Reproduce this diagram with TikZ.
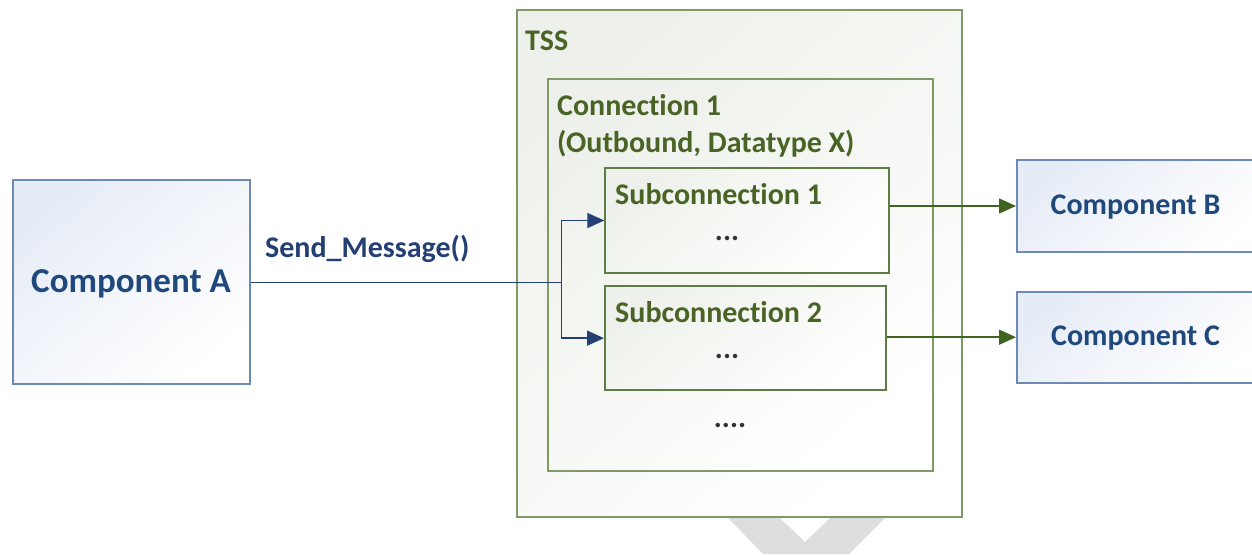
\documentclass[tikz,border=0pt]{standalone}
\usepackage{fontspec}
\setmainfont{Carlito}[Ligatures={NoCommon}]
\usetikzlibrary{arrows.meta}
\definecolor{bluetxt}{HTML}{1F497D}
\definecolor{navy}{HTML}{243F73}
\definecolor{blueedge}{HTML}{6D8AB5}
\definecolor{bluefill}{HTML}{E6ECF6}
\definecolor{greenedge}{HTML}{7F9968}
\definecolor{greendark}{HTML}{5E7D44}
\definecolor{greentxt}{HTML}{4A6426}
\definecolor{greenfill}{HTML}{EEF1EB}
\definecolor{greenline}{HTML}{3E6420}
\definecolor{wm}{HTML}{DEDEDE}
\begin{document}
\begin{tikzpicture}[x=1pt,y=-1pt,
  box/.style={line width=2pt, inner sep=0pt, anchor=north west},
  bluebox/.style={box, draw=blueedge, top color=bluefill, bottom color=white, shading angle=40},
  greenbox/.style={box, draw=greenedge, top color=greenfill, bottom color=white, shading angle=40},
  subbox/.style={box, draw=greendark, top color=greenfill, bottom color=white, shading angle=40},
  bigtxt/.style={inner sep=0pt, text=bluetxt, font=\fontsize{35}{42}\selectfont\bfseries},
  comptxt/.style={inner sep=0pt, text=bluetxt, font=\fontsize{30}{36.6}\selectfont\bfseries},
  gtxt/.style={inner sep=0pt, text=greentxt, font=\fontsize{30}{36.6}\selectfont\bfseries},
  dottxt/.style={inner sep=0pt, text=black!80, font=\fontsize{30}{36.6}\selectfont\bfseries},
  navyline/.style={draw=navy, line width=1.5pt},
  navyarrow/.style={navyline, -{Triangle[length=17pt,width=15pt]}},
  greenarrow/.style={draw=greenline, line width=1.5pt, -{Triangle[length=17pt,width=15pt]}}
]
\fill[white] (0,0) rectangle (1252,554);
\useasboundingbox (0,0) rectangle (1252,554);
% watermark fragment
\fill[wm] (728,518) -- (780,518) -- (805,542) -- (830,518) -- (885,518) -- (849,554) -- (763,554) -- cycle;
% boxes
\node[bluebox, minimum width=237.6pt, minimum height=204pt] (A) at (11.7,179.3) {};
\node[greenbox, minimum width=444.7pt, minimum height=506.7pt] (tss) at (516,9.3) {};
\node[greenbox, minimum width=385pt, minimum height=391.7pt] (conn) at (546.7,78.3) {};
\node[subbox, minimum width=284pt, minimum height=104.4pt] (s1) at (604.3,167.3) {};
\node[subbox, minimum width=281pt, minimum height=104.3pt] (s2) at (604,285) {};
\node[bluebox, minimum width=250pt, minimum height=91.4pt] (B) at (1016,159.3) {};
\node[bluebox, minimum width=250pt, minimum height=91pt] (C) at (1016,290.7) {};
% texts
\node[bigtxt, anchor=base] (tA) at (131,292) {Component A};
\node[comptxt, anchor=base] (tB) at (1135.5,214) {Component B};
\node[comptxt, anchor=base] (tC) at (1135.5,345) {Component C};
\node[comptxt, text=navy, anchor=base west] (tsend) at (265,257) {Send\_Message()};
\node[gtxt, anchor=base west] (ttss) at (525,50) {TSS};
\node[gtxt, anchor=base west] (tc1) at (557,115) {Connection 1};
\node[gtxt, anchor=base west] (tc2) at (557,152) {(Outbound, Datatype X)};
\node[gtxt, anchor=base west] (ts1) at (615,204.5) {Subconnection 1};
\node[dottxt, anchor=base] (d1) at (727,240) {...};
\node[gtxt, anchor=base west] (ts2) at (615,322.5) {Subconnection 2};
\node[dottxt, anchor=base] (d2) at (727,358) {...};
\node[dottxt, anchor=base] (d3) at (730,427) {....};
% connectors
\path (A.east) ++(310,0) coordinate (j);
\draw[navyline] (A.east) -- (j);
\draw[navyarrow] (j) |- (s1.west);
\draw[navyarrow] (j) |- (s2.west);
\draw[greenarrow] (s1.east |- B.west) -- (B.west);
\draw[greenarrow] (s2.east |- C.west) -- (C.west);
\end{tikzpicture}
\end{document}
